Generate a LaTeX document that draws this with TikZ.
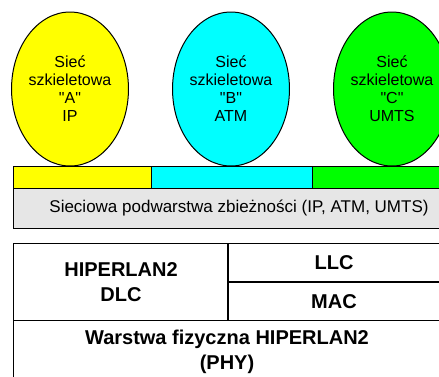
\documentclass[tikz,border=0pt]{standalone}
\usepackage{fontspec}
\setmainfont{Liberation Sans}
\usetikzlibrary{shapes.geometric}
\definecolor{netyellow}{HTML}{FFFF00}
\definecolor{netcyan}{HTML}{00FFFF}
\definecolor{netgreen}{HTML}{00FF00}
\definecolor{convgray}{HTML}{E6E6E6}
\newcommand{\qq}[1]{\textquotedbl#1\textquotedbl}
\tikzset{
  net/.style={ellipse, draw=black, line width=1pt, minimum width=114pt,
    minimum height=154pt, inner sep=0pt, align=center,
    font=\fontsize{16}{18}\selectfont},
  band/.style={draw=black, line width=1.2pt, inner sep=0pt, anchor=north west},
  layer/.style={font=\bfseries\fontsize{20}{25}\selectfont, align=center, inner sep=0pt}
}
\begin{document}
\begin{tikzpicture}[x=1pt,y=-1pt]
\useasboundingbox (0,0) rectangle (439,376);
\clip (0,0) rectangle (439,376);
\fill[white] (0,0) rectangle (439,376);

% backbone networks
\node[net, fill=netyellow] (netA) at (70,89) {Sieć\\szkieletowa\\\qq{A}\\IP};
\node[net, fill=netcyan] (netB) at (231,89) {Sieć\\szkieletowa\\\qq{B}\\ATM};
\node[net, fill=netgreen] (netC) at (392,89) {Sieć\\szkieletowa\\\qq{C}\\UMTS};

% coloured attachment strip
\node[band, fill=netyellow, minimum width=138pt, minimum height=22pt] (stripA) at (13,166) {};
\node[band, fill=netcyan, minimum width=161pt, minimum height=22pt] (stripB) at (151,166) {};
\node[band, fill=netgreen, minimum width=140pt, minimum height=22pt] (stripC) at (312,166) {};

% convergence sublayer
\node[band, fill=convgray, minimum width=440pt, minimum height=40pt] (conv) at (13,188) {};
\node[font=\fontsize{17}{19}\selectfont, inner sep=0pt] (convtxt) at (239,208)
  {Sieciowa podwarstwa zbieżności (IP, ATM, UMTS)};

% HIPERLAN2 stack
\node[band, fill=white, minimum width=434pt, minimum height=77pt] (dlc) at (13,243) {};
\node[band, minimum width=434pt, minimum height=100pt] (phy) at (13,320) {};
\draw[line width=1.2pt] (dlc.north west) ++(215,0) coordinate (split) -- (split |- dlc.south);
\draw[line width=1.2pt] (split |- 0,282) coordinate (llcmac) -- (dlc.east |- llcmac);

\node[layer] (dlctxt) at (121,282) {HIPERLAN2\\DLC};
\node[layer] (llc) at (334,263) {LLC};
\node[layer] (mac) at (334,302) {MAC};
\node[layer] (phytxt) at (227,352) {Warstwa fizyczna HIPERLAN2\\(PHY)};
\end{tikzpicture}
\end{document}
